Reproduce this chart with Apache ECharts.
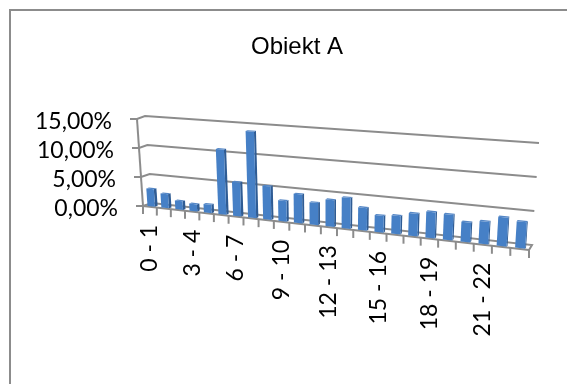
<!DOCTYPE html>
<html>
<head>
<meta charset="utf-8">
<style>
  html, body { margin: 0; padding: 0; background: #fff; }
  #chart { width: 567px; height: 384px; }
</style>
<script src="https://cdn.jsdelivr.net/npm/echarts@6/dist/echarts.min.js"></script>
</head>
<body>
<div id="chart"></div>
<script>
const hours = [
  "0 - 1", "1 - 2", "2 - 3", "3 - 4", "4 - 5", "5 - 6", "6 - 7", "7 - 8",
  "8 - 9", "9 - 10", "10 - 11", "11 - 12", "12 - 13", "13 - 14", "14 - 15", "15 - 16",
  "16 - 17", "17 - 18", "18 - 19", "19 - 20", "20 - 21", "21 - 22", "22 - 23", "23 - 24",
];
const shares = [
  3.0, 2.4, 1.45, 1.2, 1.4, 10.8, 5.6, 14.1,
  5.4, 3.3, 4.6, 3.5, 4.2, 4.8, 3.5, 2.55,
  2.8, 3.4, 3.9, 3.8, 2.9, 3.3, 4.2, 3.8,
];
const gridValues = [0, 5, 10, 15];
const VALUE_MAX = 15;

const LINE = "#8c8c8c";
const TICK_FONT = "23px Lato, sans-serif";

// Flat grid the axes live on. Its pixels get warped into the tilted 3D box below.
const GRID = { left: 143, top: 120, width: 386, height: 86 };

// Corners of the box as Excel drew it
const BOX = {
  frontBottom: [[143, 206], [529, 250]],
  backBottom: [[152, 203], [532, 245]],
  frontTop: [[137, 119], [536, 145]],
  backTop: [[145, 116], [539, 143]],
};

const lerp = (a, b, t) => a + (b - a) * t;
const lerpPt = (a, b, t) => [lerp(a[0], b[0], t), lerp(a[1], b[1], t)];
const alongEdge = (edge, s) => lerpPt(edge[0], edge[1], s);

// perspective: columns get wider towards the right
function warpX(t) {
  return t / (t + 1.17 * (1 - t));
}

// pixel on the flat grid + depth (0 front, 1 back) -> pixel on the picture
function project(px, py, depth) {
  const s = warpX((px - GRID.left) / GRID.width);
  const v = (GRID.top + GRID.height - py) / GRID.height;
  const bottom = lerpPt(alongEdge(BOX.frontBottom, s), alongEdge(BOX.backBottom, s), depth);
  const top = lerpPt(alongEdge(BOX.frontTop, s), alongEdge(BOX.backTop, s), depth);
  return lerpPt(bottom, top, v);
}

function formatPercent(v) {
  return v.toFixed(2).replace(".", ",") + "%";
}

function renderWallLine(params, api) {
  const y = api.coord([0, api.value(0)])[1];
  const xL = GRID.left;
  const xR = GRID.left + GRID.width;
  const front = project(xL, y, 0);
  const points = [[front[0] - 7, front[1]], front, project(xL, y, 1), project(xR, y, 1)];
  if (api.value(0) === 0) points.push(project(xR, y, 0));
  return {
    type: "group",
    children: [
      { type: "polyline", shape: { points }, style: { stroke: LINE, lineWidth: 2, fill: null } },
      {
        type: "text",
        style: {
          x: front[0] - 25,
          y: front[1] + 3,
          text: formatPercent(api.value(0)),
          font: TICK_FONT,
          fill: "#000",
          align: "right",
          verticalAlign: "middle",
        },
      },
    ],
  };
}

function renderFloorEdge(params, api) {
  const yBase = api.coord([0, 0])[1];
  const yTop = api.coord([0, VALUE_MAX])[1];
  const xL = GRID.left;
  const xR = GRID.left + GRID.width;
  return {
    type: "group",
    children: [
      { type: "polyline", shape: { points: [project(xL, yBase, 0), project(xR, yBase, 0)] },
        style: { stroke: LINE, lineWidth: 2, fill: null } },
      { type: "polyline", shape: { points: [project(xL, yBase, 0), project(xL, yTop, 0)] },
        style: { stroke: LINE, lineWidth: 2, fill: null } },
    ],
  };
}

function renderTick(params, api) {
  const c = api.coord([api.value(0), 0]);
  const band = api.size([1, 0])[0];
  const children = [];
  const add = (px) => {
    const p = project(px, c[1], 0);
    children.push({ type: "line", shape: { x1: p[0], y1: p[1], x2: p[0], y2: p[1] + 8 },
      style: { stroke: LINE, lineWidth: 2 } });
  };
  add(c[0] - band / 2);
  if (params.dataIndex === hours.length - 1) add(c[0] + band / 2);
  return { type: "group", children };
}

function renderLabel(params, api) {
  if (params.dataIndex % 3 !== 0) return null;
  const c = api.coord([api.value(0), 0]);
  const p = project(c[0], c[1], 0);
  return {
    type: "text",
    x: p[0],
    y: p[1] + 18,
    rotation: Math.PI / 2,
    style: { text: hours[params.dataIndex], font: TICK_FONT, fill: "#000", align: "right", verticalAlign: "middle" },
  };
}

function renderColumn(params, api) {
  const top = api.coord([api.value(0), api.value(1)]);
  const base = api.coord([api.value(0), 0]);
  const half = api.size([1, 0])[0] * 0.27;
  const x0 = top[0] - half;
  const x1 = top[0] + half;
  const dNear = 0.15;
  const dFar = 0.45;
  const face = [project(x0, base[1], dNear), project(x1, base[1], dNear), project(x1, top[1], dNear), project(x0, top[1], dNear)];
  const side = [project(x1, base[1], dNear), project(x1, base[1], dFar), project(x1, top[1], dFar), project(x1, top[1], dNear)];
  const cap = [project(x0, top[1], dNear), project(x1, top[1], dNear), project(x1, top[1], dFar), project(x0, top[1], dFar)];
  return {
    type: "group",
    children: [
      { type: "polygon", shape: { points: side }, style: { fill: "#2f5c94" } },
      { type: "polygon", shape: { points: face }, style: { fill: "#4680c6" } },
      { type: "polygon", shape: { points: cap }, style: { fill: "#5587c6" } },
    ],
  };
}

const hourIndex = hours.map((h, i) => [i]);

const chart = echarts.init(document.getElementById("chart"), null, { renderer: "canvas" });
chart.setOption({
  animation: false,
  backgroundColor: "#fff",
  title: {
    text: "Obiekt A",
    left: 292,
    top: 30,
    textAlign: "center",
    textStyle: { fontFamily: "'Liberation Sans', Arial, sans-serif", fontSize: 24, fontWeight: "normal", color: "#000" },
  },
  // only the left and top edges of the chart frame fall inside the crop
  graphic: [{
    type: "polyline",
    shape: { points: [[10, 384], [10, 10], [567, 10]] },
    style: { fill: "none", stroke: LINE, lineWidth: 2 },
    silent: true,
  }],
  grid: GRID,
  xAxis: {
    type: "category",
    data: hours,
    axisLine: { show: false },
    axisTick: { show: false },
    axisLabel: { show: false },
  },
  yAxis: {
    type: "value",
    min: 0,
    max: VALUE_MAX,
    interval: 5,
    axisLine: { show: false },
    axisTick: { show: false },
    splitLine: { show: false },
    axisLabel: { show: false },
  },
  series: [
    { type: "custom", renderItem: renderWallLine, data: gridValues.map((v) => [v]), encode: { y: 0 }, silent: true },
    { type: "custom", renderItem: renderFloorEdge, data: [[0]], silent: true },
    { type: "custom", renderItem: renderTick, data: hourIndex, encode: { x: 0 }, silent: true },
    { type: "custom", renderItem: renderLabel, data: hourIndex, encode: { x: 0 }, silent: true },
    {
      type: "custom",
      name: "Obiekt A",
      renderItem: renderColumn,
      data: shares.map((v, i) => [i, v]),
      encode: { x: 0, y: 1 },
    },
  ],
});
</script>
</body>
</html>
